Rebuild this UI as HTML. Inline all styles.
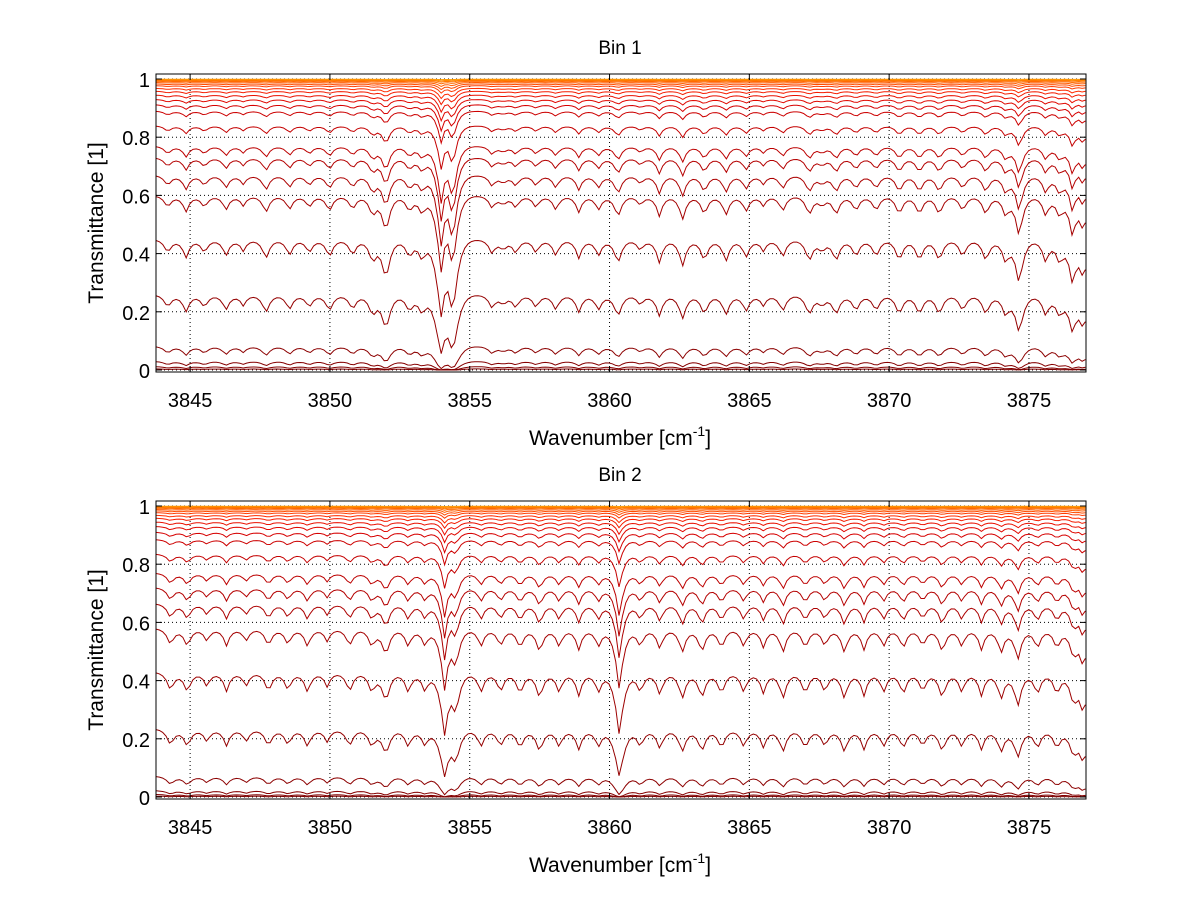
<!DOCTYPE html>
<html><head><meta charset="utf-8">
<style>
html,body{margin:0;padding:0;background:#fff;}
svg{display:block;font-family:"Liberation Sans",sans-serif;}
</style></head>
<body>
<svg id="fig" width="1200" height="901" viewBox="0 0 1200 901" xmlns="http://www.w3.org/2000/svg">
<rect x="0" y="0" width="1200" height="901" fill="#fff"/>
</svg>
<script>
// ---- data ----
const xTicks = [3845, 3850, 3855, 3860, 3865, 3870, 3875];
const yTicks = [0, 0.2, 0.4, 0.6, 0.8, 1];
const yTickLabels = ["0", "0.2", "0.4", "0.6", "0.8", "1"];
const xRange = [3843.78, 3877.04];
const titles = ["Bin 1", "Bin 2"];
// absorption line positions (cm^-1) and relative strengths
const lines1Pos = [3844.2,3844.85,3845.51,3846.28,3846.9,3847.71,3848.55,3849.26,3849.98,3850.81,3851.53,3852.0,3852.84,3853.3,3853.97,3854.39,3855.8,3856.2,3856.65,3857.37,3858.08,3858.9,3859.6,3860.3,3861.1,3861.78,3862.61,3863.39,3864.16,3864.88,3865.5,3866.19,3867.14,3867.6,3868.1,3868.81,3869.53,3870.36,3871.08,3871.79,3872.63,3873.46,3874.17,3874.65,3875.6,3876.1,3876.56,3876.95];
const lines1Str = [0.15,0.2,0.15,0.18,0.12,0.22,0.18,0.15,0.2,0.18,0.25,0.5,0.2,0.22,1.1,1.05,0.15,0.1,0.15,0.15,0.18,0.2,0.18,0.28,0.12,0.25,0.3,0.25,0.25,0.2,0.12,0.2,0.25,0.12,0.25,0.2,0.2,0.25,0.25,0.25,0.2,0.25,0.25,0.55,0.25,0.25,0.5,0.45];
const lines2Pos = [3844.3,3844.9,3845.6,3846.3,3847.0,3847.8,3848.5,3849.2,3849.9,3850.7,3851.5,3852.0,3852.8,3853.4,3854.1,3854.5,3855.4,3856.1,3856.8,3857.5,3858.2,3858.9,3859.6,3860.35,3861.1,3861.8,3862.6,3863.3,3864.0,3864.8,3865.5,3866.2,3867.0,3867.7,3868.4,3869.1,3869.8,3870.5,3871.2,3871.9,3872.6,3873.3,3874.0,3874.6,3875.3,3876.0,3876.6,3876.95];
const lines2Str = [0.2,0.22,0.15,0.2,0.15,0.22,0.2,0.22,0.15,0.22,0.22,0.35,0.22,0.2,0.8,0.45,0.22,0.22,0.25,0.3,0.22,0.25,0.22,0.85,0.22,0.25,0.3,0.3,0.25,0.22,0.22,0.3,0.25,0.22,0.3,0.25,0.22,0.25,0.22,0.3,0.22,0.25,0.3,0.4,0.25,0.25,0.35,0.5];
const lineWidth = [0.17];
// baseline transmittance of each curve
const bases1 = [0.999,0.997,0.995,0.992,0.988,0.983,0.977,0.968,0.958,0.945,0.93,0.912,0.89,0.84,0.77,0.73,0.67,0.6,0.45,0.26,0.082,0.03,0.012,0.004];
const bases2 = [0.999,0.997,0.995,0.992,0.988,0.983,0.977,0.968,0.958,0.945,0.93,0.91,0.885,0.835,0.77,0.72,0.665,0.58,0.43,0.235,0.072,0.022,0.009,0.003];
const curveColors = ["#ff9c00","#ff8a00","#ff7800","#ff6a00","#ff5c00","#ff4c00","#ff3c00","#ff2c00","#f41c00","#ea1000","#e00800","#d60000","#cc0000","#c40000","#bc0000","#b40000","#ac0000","#a40000","#9c0000","#940000","#8c0000","#860000","#820000","#7c0000"];

// ---- drawing ----
const NS = "http://www.w3.org/2000/svg";
const svg = document.getElementById('fig');
const panels = [
  {top:74, bottom:372, pos:lines1Pos, str:lines1Str, bases:bases1, title:titles[0], tTop:54},
  {top:501, bottom:799, pos:lines2Pos, str:lines2Str, bases:bases2, title:titles[1], tTop:481}
];
const L = 156, R = 1086;
function el(tag, attrs, parent){const e=document.createElementNS(NS,tag);for(const k in attrs)e.setAttribute(k,attrs[k]);(parent||svg).appendChild(e);return e;}
function xs(v){return L + (v - xRange[0]) / (xRange[1] - xRange[0]) * (R - L);}

panels.forEach((p, pi) => {
  const y0 = p.bottom - 2, y1 = p.top + 5;
  const ys = v => y0 - v * (y0 - y1);
  const g = el('g', {});
  
  
  xTicks.forEach(t => {
    const gl = el('line', {x1:xs(t), x2:xs(t), y1:p.top, y2:p.bottom, stroke:'#000', 'stroke-width':1, 'stroke-dasharray':'1,3'}, g);
    
    
  });
  yTicks.forEach(t => {
    const gl = el('line', {x1:L, x2:R, y1:ys(t), y2:ys(t), stroke:'#000', 'stroke-width':1, 'stroke-dasharray':'1,3'}, g);
    
    
  });
  const clip = el('clipPath', {id:'clip' + pi}, g);
  el('rect', {x:L, y:p.top, width:R - L, height:p.bottom - p.top}, clip);
  const cg = el('g', {'clip-path':'url(#clip' + pi + ')'}, g);
  const w = lineWidth[0];
  p.bases.forEach((b, ci) => {
    let pts = [];
    for (let x = xRange[0]; x <= xRange[1] + 1e-9; x += 0.12) {
      let tau = 1;
      for (let j = 0; j < p.pos.length; j++) tau += p.str[j] * Math.exp(-Math.abs(x - p.pos[j]) / w);
      const T = Math.pow(b, tau);
      pts.push(xs(x).toFixed(1) + ',' + ys(T).toFixed(1));
    }
    const pl = el('polyline', {points:pts.join(' '), fill:'none', stroke:curveColors[ci], 'stroke-width':1}, cg);
    
    
  });
  const box = el('rect', {x:L, y:p.top, width:R - L, height:p.bottom - p.top, fill:'none', stroke:'#000', 'stroke-width':1}, g);
  
  
  xTicks.forEach(t => {
    el('line', {x1:xs(t), x2:xs(t), y1:p.bottom, y2:p.bottom - 6, stroke:'#000'}, g);
    el('line', {x1:xs(t), x2:xs(t), y1:p.top, y2:p.top + 6, stroke:'#000'}, g);
    const tx = el('text', {x:xs(t), y:p.bottom + 35, 'font-size':20, 'text-anchor':'middle'}, g);
    tx.textContent = t;
    
    
  });
  yTicks.forEach((t, i) => {
    el('line', {x1:L, x2:L + 6, y1:ys(t), y2:ys(t), stroke:'#000'}, g);
    el('line', {x1:R, x2:R - 6, y1:ys(t), y2:ys(t), stroke:'#000'}, g);
    const tx = el('text', {x:L - 6, y:ys(t) + 8, 'font-size':20, 'text-anchor':'end'}, g);
    tx.textContent = yTickLabels[i];
    
    
  });
  const tt = el('text', {x:620, y:p.tTop, 'font-size':19, 'text-anchor':'middle'}, g);
  tt.textContent = p.title;
  
  
  const xl = el('text', {x:620, y:p.bottom + 73, 'font-size':21, 'text-anchor':'middle'}, g);
  xl.innerHTML = 'Wavenumber [cm<tspan font-size="14" dy="-9">-1</tspan><tspan dy="9">]</tspan>';
  
  
  const cy = (p.top + p.bottom) / 2;
  const yl = el('text', {x:103, y:cy, 'font-size':21, 'text-anchor':'middle', transform:'rotate(-90 103 ' + cy + ')'}, g);
  yl.textContent = 'Transmittance [1]';
  
  
});
</script>
</body></html>
